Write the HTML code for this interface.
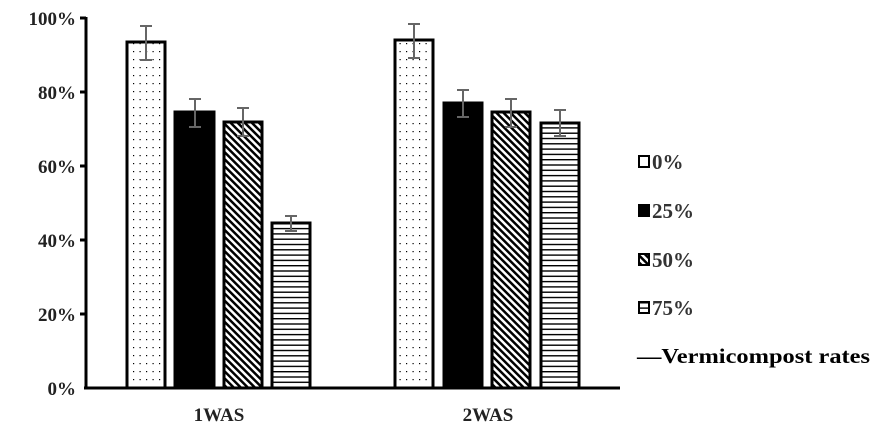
<!DOCTYPE html>
<html><head><meta charset="utf-8"><style>body{margin:0;background:#fff}svg{display:block}</style></head>
<body>
<svg width="875" height="431" xmlns="http://www.w3.org/2000/svg" font-family="Liberation Serif, serif" font-weight="bold">
<defs>
<pattern id="dots" width="6.5" height="8" patternUnits="userSpaceOnUse"><rect x="3" y="3" width="1.2" height="1.2" fill="#000"/></pattern>
<pattern id="diag" width="5" height="5" patternUnits="userSpaceOnUse" patternTransform="rotate(-45)"><rect width="5" height="5" fill="#fff"/><rect width="2.5" height="5" fill="#000"/></pattern>
<pattern id="hor" width="6" height="5.3" patternUnits="userSpaceOnUse"><rect width="6" height="5.3" fill="#fff"/><rect y="0" width="6" height="1.4" fill="#000"/></pattern>
</defs>
<g stroke="#000" stroke-width="3" fill="none">
<line x1="86" y1="17" x2="86" y2="389"/>
<line x1="84" y1="388" x2="620" y2="388"/>
<line x1="80" y1="18" x2="86" y2="18"/><line x1="80" y1="92" x2="86" y2="92"/><line x1="80" y1="166" x2="86" y2="166"/><line x1="80" y1="240" x2="86" y2="240"/><line x1="80" y1="314" x2="86" y2="314"/>
</g>
<g font-size="19" fill="#222" text-anchor="end">
<text x="76" y="25">100%</text><text x="76" y="99">80%</text><text x="76" y="173">60%</text><text x="76" y="247">40%</text><text x="76" y="321">20%</text><text x="76" y="395">0%</text>
</g>
<g stroke="#000" stroke-width="3">
<rect x="127" y="42" width="38" height="346" fill="url(#dots)"/>
<rect x="175" y="112" width="39" height="276" fill="#000"/>
<rect x="224" y="122" width="38" height="266" fill="url(#diag)"/>
<rect x="272" y="223" width="38" height="165" fill="url(#hor)"/>
<rect x="395" y="40" width="38" height="348" fill="url(#dots)"/>
<rect x="444" y="103" width="38" height="285" fill="#000"/>
<rect x="492" y="112" width="38" height="276" fill="url(#diag)"/>
<rect x="541" y="123" width="38" height="265" fill="url(#hor)"/>
</g>
<g stroke="#666" stroke-width="2">
<path d="M140 26H152M146 26V60M140 60H152"/>
<path d="M189 99H201M195 99V127M189 127H201"/>
<path d="M237 108H249M243 108V136M237 136H249"/>
<path d="M285 216H297M291 216V231M285 231H297"/>
<path d="M408 24H420M414 24V58M408 58H420"/>
<path d="M457 90H469M463 90V117M457 117H469"/>
<path d="M505 99H517M511 99V127M505 127H517"/>
<path d="M554 110H566M560 110V136M554 136H566"/>
</g>
<g font-size="19" fill="#222" text-anchor="middle"><text x="219" y="421">1WAS</text><text x="488" y="421">2WAS</text></g>
<g stroke="#000" stroke-width="2">
<rect x="639" y="156" width="10" height="11" fill="#fff"/>
<rect x="639" y="205" width="10" height="11" fill="#000"/>
<rect x="639" y="254" width="10" height="11" fill="url(#diag)"/>
<rect x="639" y="302" width="10" height="11" fill="url(#hor)"/>
</g>
<g font-size="21" fill="#333">
<text x="652" y="169">0%</text><text x="652" y="218">25%</text><text x="652" y="267">50%</text><text x="652" y="315">75%</text>
<text x="637" y="363" fill="#000" textLength="233" lengthAdjust="spacingAndGlyphs">—Vermicompost rates</text>
</g>
</svg>
</body></html>
